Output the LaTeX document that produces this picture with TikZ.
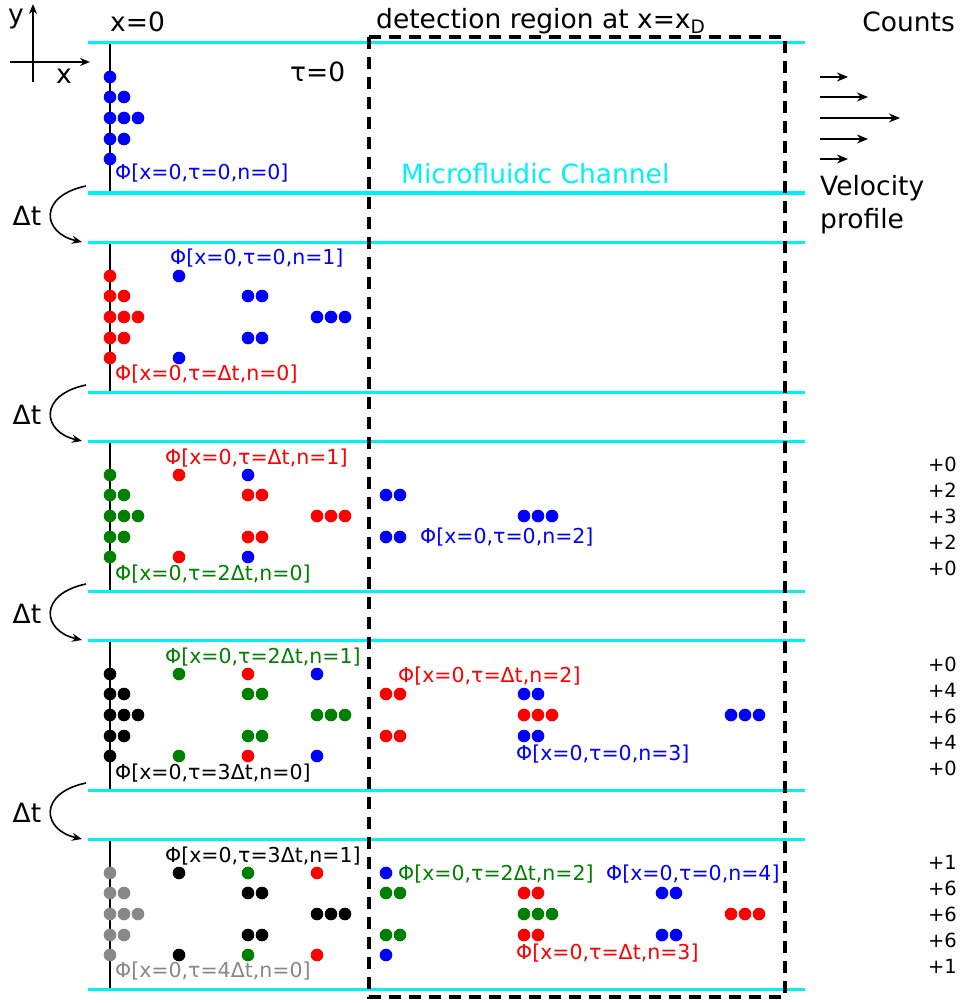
\documentclass[tikz,border=0pt]{standalone}
\usepackage{fontspec}
\setmainfont{DejaVu Sans}
\usetikzlibrary{arrows.meta}
\definecolor{chan}{HTML}{00F2F2}
\definecolor{pkt0}{HTML}{0000FF}
\definecolor{pkt1}{HTML}{FF0000}
\definecolor{pkt2}{HTML}{008000}
\definecolor{pkt3}{HTML}{000000}
\definecolor{pkt4}{HTML}{888888}
\newcommand{\smallfont}{\fontsize{20.5}{24}\selectfont}
\newcommand{\bigfont}{\fontsize{26.5}{33}\selectfont}
\tikzset{
    wall/.style={draw=chan,line width=3pt},
    inlet/.style={draw=black,line width=1.5pt},
    detbox/.style={draw=black,line width=3.2pt,dash pattern=on 12pt off 8pt},
    flowarrow/.style={-{Stealth[length=11pt,width=9pt]},draw=black,line width=2pt},
    steparrow/.style={-{Stealth[length=10pt,width=8pt]},draw=black,line width=1.6pt},
    philabel/.style={anchor=west,inner sep=0pt,font=\smallfont},
    biglabel/.style={inner sep=0pt,font=\bigfont},
    countlabel/.style={anchor=east,inner sep=0pt,align=right,
      font=\fontsize{19.5}{26}\selectfont}
}
\begin{document}
\begin{tikzpicture}[x=1pt,y=-1pt]
  \useasboundingbox (0,0) rectangle (959,1003);

  % axes
  \draw[steparrow] (33,82) -- (33,4);
  \draw[steparrow] (10,62) -- (90,62);
  \node[biglabel] (ylbl) at (16,19) {y};
  \node[biglabel] (xlbl) at (64,76) {x};

  % channels, inlet lines and cell packets
  \foreach \i in {0,...,4} {
    \pgfmathsetmacro\ytop{43+199*\i}
    \draw[inlet] (110,\ytop) -- (110,\ytop+150);
    \foreach \m in {0,...,\i} {
      \pgfmathsetmacro\n{int(\i-\m)}
      \begin{scope}
        \clip (0,0) rectangle (790,1003);
        \foreach \dy/\k/\v in {34/1/69,54/2/138,75/3/207,96/2/138,116/1/69} {
          \foreach \j in {1,...,\k}
            \fill[pkt\m] ({110+\n*\v+(\j-1)*14},{\ytop+\dy}) circle[radius=6.3pt];
        }
      \end{scope}
    }
    \draw[wall] (88,\ytop) -- (805,\ytop);
    \draw[wall] (88,\ytop+150) -- (805,\ytop+150);
  }

  % time steps
  \foreach \i in {0,...,3} {
    \pgfmathsetmacro\ybot{193+199*\i}
    \coordinate (dtA\i) at (86,\ybot-7);
    \coordinate (dtB\i) at (82,\ybot+49);
    \draw[steparrow] (dtA\i) .. controls (38,\ybot+3) and (42,\ybot+40) .. (dtB\i);
    \node[biglabel] (dt\i) at (27,\ybot+23) {Δt};
  }

  % detection region
  \draw[detbox] (369,37) rectangle (785,997);

  % top labels
  \node[biglabel,anchor=west] (origin) at (110,22) {x=0};
  \node[biglabel,anchor=west] (tau) at (290,72) {τ=0};
  \node[biglabel,anchor=west] (detect) at (376,21) {detection region at x=x\textsubscript{D}};
  \node[biglabel,anchor=east] (counts) at (955,22) {Counts};
  \node[biglabel,anchor=west,text=chan] (channel) at (401,174) {Microfluidic Channel};

  % velocity profile
  \coordinate (vp) at (820,0);
  \foreach \vy/\vl in {77/28,97/48,118/80,139/48,159/28}
    \draw[flowarrow] (vp |- 0,\vy) -- ++(\vl,0);
  \node[biglabel,anchor=north west,align=left] (velo) at (820,175) {Velocity\\profile};

  % packet labels
  \node[philabel,text=pkt0] (l00) at (115,173) {Φ[x=0,τ=0,n=0]};
  \node[philabel,text=pkt0] (l01) at (170,258) {Φ[x=0,τ=0,n=1]};
  \node[philabel,text=pkt1] (l10) at (115,374) {Φ[x=0,τ=Δt,n=0]};
  \node[philabel,text=pkt1] (l11) at (165,458) {Φ[x=0,τ=Δt,n=1]};
  \node[philabel,text=pkt0] (l02) at (420,537) {Φ[x=0,τ=0,n=2]};
  \node[philabel,text=pkt2] (l20) at (115,574) {Φ[x=0,τ=2Δt,n=0]};
  \node[philabel,text=pkt2] (l21) at (165,657) {Φ[x=0,τ=2Δt,n=1]};
  \node[philabel,text=pkt1] (l12) at (398,676) {Φ[x=0,τ=Δt,n=2]};
  \node[philabel,text=pkt0] (l03) at (516,754) {Φ[x=0,τ=0,n=3]};
  \node[philabel,text=pkt3] (l30) at (115,773) {Φ[x=0,τ=3Δt,n=0]};
  \node[philabel,text=pkt3] (l31) at (165,856) {Φ[x=0,τ=3Δt,n=1]};
  \node[philabel,text=pkt2] (l22) at (398,874) {Φ[x=0,τ=2Δt,n=2]};
  \node[philabel,text=pkt0] (l04) at (606,874) {Φ[x=0,τ=0,n=4]};
  \node[philabel,text=pkt1] (l13) at (516,953) {Φ[x=0,τ=Δt,n=3]};
  \node[philabel,text=pkt4] (l40) at (115,971) {Φ[x=0,τ=4Δt,n=0]};

  % counts
  \node[countlabel] (c2) at (957,516) {+0\\+2\\+3\\+2\\+0};
  \node[countlabel] (c3) at (957,716) {+0\\+4\\+6\\+4\\+0};
  \node[countlabel] (c4) at (957,914) {+1\\+6\\+6\\+6\\+1};
\end{tikzpicture}
\end{document}
